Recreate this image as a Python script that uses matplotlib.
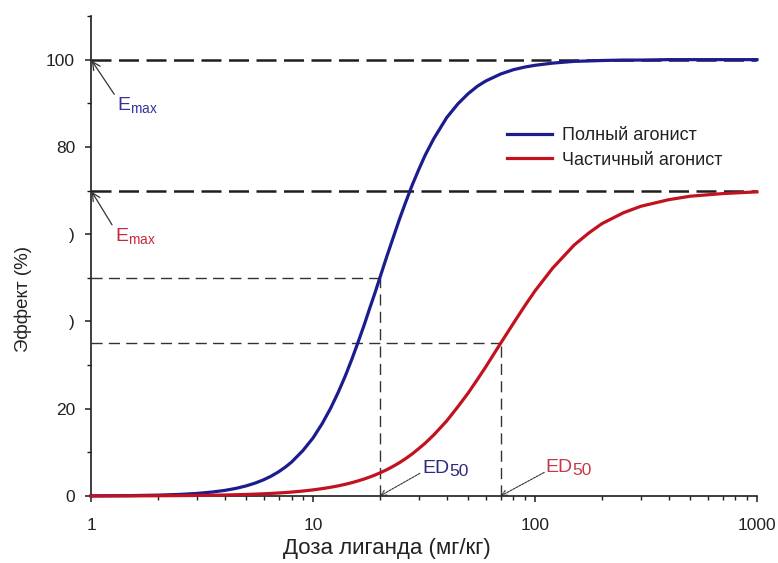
import matplotlib
matplotlib.use("Agg")
import matplotlib.pyplot as plt
from matplotlib.ticker import MultipleLocator, LogLocator, NullFormatter, FixedLocator, FixedFormatter

plt.rcParams['font.family'] = ['Liberation Sans', 'DejaVu Sans']

# ---------------- data ----------------
doses = [1, 1.5, 2, 2.5, 3, 3.5, 4, 4.5, 5, 5.5, 6, 6.5, 7, 7.5, 8, 9, 10, 11, 12, 13,
         14, 15, 16, 17, 18, 19, 20, 21.5, 23, 24.5, 26, 28, 30, 32, 35, 40, 45, 50, 55, 60,
         70, 80, 90, 100, 120, 150, 175, 200, 250, 300, 400, 500, 700, 1000]
full_agonist = [0.03, 0.09, 0.2, 0.36, 0.59, 0.90, 1.28, 1.75, 2.32, 2.98,
                3.73, 4.59, 5.55, 6.61, 7.76, 10.4, 13.3, 16.6, 20.1, 23.8,
                27.6, 31.5, 35.4, 39.2, 43.0, 46.5, 50.0, 54.9, 59.3, 63.4,
                67.0, 71.3, 74.9, 78.1, 81.9, 86.7, 89.9, 92.2, 93.9, 95.1,
                96.7, 97.7, 98.3, 98.7, 99.2, 99.6, 99.7, 99.8, 99.9, 99.9,
                100.0, 100.0, 100.0, 100.0]
partial_agonist = [0.01, 0.03, 0.06, 0.09, 0.13, 0.17, 0.23, 0.29, 0.36, 0.43,
                   0.51, 0.60, 0.69, 0.79, 0.90, 1.14, 1.40, 1.69, 2.0, 2.33,
                   2.69, 3.07, 3.48, 3.90, 4.34, 4.80, 5.28, 6.03, 6.82, 7.64,
                   8.48, 9.66, 10.9, 12.1, 14.0, 17.2, 20.5, 23.6, 26.7, 29.6,
                   35.0, 39.6, 43.6, 47.0, 52.2, 57.5, 60.3, 62.4, 64.9, 66.4,
                   67.9, 68.7, 69.3, 69.7]
series_labels = ["Полный агонист", "Частичный агонист"]

emax_full, emax_partial = 100, 70
ed50_full, ed50_partial = 20, 70
half_full, half_partial = 50, 35

x_ticks = [1, 10, 100, 1000]
x_tick_labels = ["1", "10", "100", "1000"]
y_ticks = [0, 20, 40, 60, 80, 100]
y_tick_labels = ["0", "20", ")", ")", "80", "100"]
x_label = "Доза лиганда (мг/кг)"
y_label = "Эффект (%)"

# ---------------- figure ----------------
BLUE = "#1c1c8e"
RED = "#c2121f"
DARK = "#1e1e1e"

fig = plt.figure(figsize=(7.78, 5.63), dpi=100)
ax = fig.add_axes([0.117, 0.119, 0.856, 0.8526])
ax.set_xscale('log')
ax.set_xlim(x_ticks[0], x_ticks[-1])
ax.set_ylim(0, 110)

for s in ("top", "right"):
    ax.spines[s].set_visible(False)
for s in ("left", "bottom"):
    ax.spines[s].set_linewidth(1.2)
    ax.spines[s].set_color(DARK)

ax.xaxis.set_major_locator(FixedLocator(x_ticks))
ax.xaxis.set_major_formatter(FixedFormatter(x_tick_labels))
ax.xaxis.set_minor_locator(LogLocator(base=10, subs=[2, 3, 4, 5, 6, 7, 8, 9]))
ax.xaxis.set_minor_formatter(NullFormatter())
ax.yaxis.set_major_locator(FixedLocator(y_ticks))
ax.yaxis.set_major_formatter(FixedFormatter(y_tick_labels))
ax.yaxis.set_minor_locator(MultipleLocator(10))

ax.tick_params(axis='both', which='major', direction='out', length=4.5, width=1.1,
               color=DARK, labelsize=12.5, labelcolor="#222222")
ax.tick_params(axis='both', which='minor', direction='out', length=3, width=1.0, color=DARK)
ax.tick_params(axis='x', which='major', pad=11)
ax.tick_params(axis='y', which='major', pad=7)

# guide lines
ax.axhline(emax_full, color=DARK, lw=1.8, dashes=(8, 3), zorder=1)
ax.axhline(emax_partial, color=DARK, lw=1.8, dashes=(8, 3), zorder=1)
thin = dict(color="#333333", lw=1.0, linestyles=(0, (8, 4.5)), zorder=1)
ax.hlines(half_full, x_ticks[0], ed50_full, **thin)
ax.hlines(half_partial, x_ticks[0], ed50_partial, **thin)
ax.vlines(ed50_full, 0, half_full, **thin)
ax.vlines(ed50_partial, 0, half_partial, **thin)

# curves
ax.plot(doses, full_agonist, color=BLUE, lw=2.3, label=series_labels[0], zorder=3,
        clip_on=False, solid_joinstyle='round')
ax.plot(doses, partial_agonist, color=RED, lw=2.3, label=series_labels[1], zorder=3,
        clip_on=False, solid_joinstyle='round')

# axis labels
ax.set_xlabel(x_label, fontsize=16, color="#222222")
ax.xaxis.set_label_coords(0.444, -0.088)
ax.set_ylabel(y_label, fontsize=13.5, color="#222222", va='center')
ax.yaxis.set_label_coords(-0.102, 0.41)

# legend
leg = ax.legend(loc='upper left', bbox_to_anchor=(507 / 778, 1 - 127 / 563),
                bbox_transform=fig.transFigure, frameon=False, fontsize=13,
                handlelength=2.5, handletextpad=0.55, labelspacing=0.42,
                borderpad=0, borderaxespad=0)
for t in leg.get_texts():
    t.set_color("#222222")

# E_max annotations
arrow_kw = dict(arrowstyle='->', color="#333333", lw=0.9, shrinkA=0, shrinkB=1)
ax.annotate(r"$\mathregular{E_{max}}$", xy=(x_ticks[0], emax_full), xytext=(1.31, 89.5),
            fontsize=14, color="#35309a", ha='left', va='center',
            arrowprops=dict(relpos=(0, 0.85), **arrow_kw))
ax.annotate(r"$\mathregular{E_{max}}$", xy=(x_ticks[0], emax_partial), xytext=(1.28, 59.5),
            fontsize=14, color="#c8283c", ha='left', va='center',
            arrowprops=dict(relpos=(0, 0.85), **arrow_kw))

# ED50 annotations
ed_arrow = dict(arrowstyle='->', color="#333333", lw=0.8, linestyle=(0, (2, 1)),
                shrinkA=0, shrinkB=0)


def ed_label(x_text, y_text, x_tail, y_tail, x_tip, color):
    ax.annotate("", xy=(x_tip, 0), xytext=(x_tail, y_tail), arrowprops=ed_arrow)
    t = ax.text(x_text, y_text, "ED", fontsize=14, color=color, ha='left', va='center')
    ax.annotate("50", xy=(1, 0), xycoords=t, xytext=(0, -1.5), textcoords='offset points',
                fontsize=12.5, color=color, ha='left', va='bottom')


ed_label(31, 6.3, 30.3, 5.2, ed50_full, "#2a2a80")
ed_label(111, 6.6, 110, 5.4, ed50_partial, "#c43a4a")

fig.savefig("out.png", dpi=100)
